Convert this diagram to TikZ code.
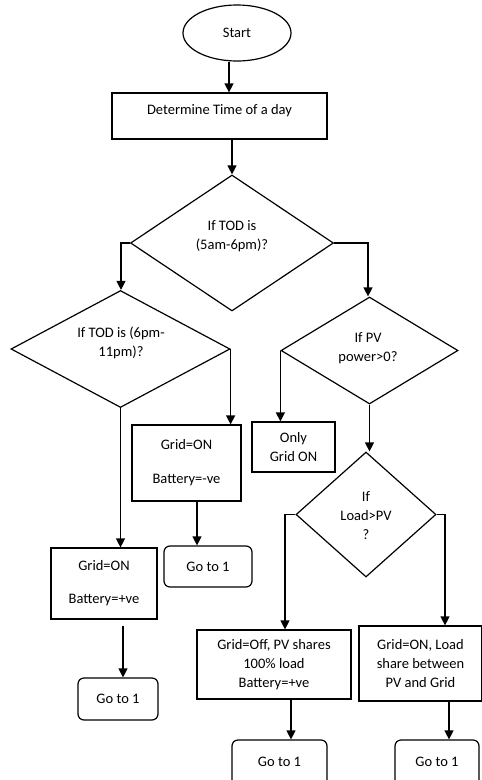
\documentclass[tikz,border=0pt]{standalone}
\usepackage{fontspec}
\setmainfont{Carlito}
\usetikzlibrary{shapes.geometric,arrows.meta,calc}
\tikzset{
  base/.style={draw=black, line width=1.2pt, inner sep=0pt, font=\fontsize{14.5}{19}\selectfont, align=center},
  boxnode/.style={base, rectangle},
  gonode/.style={base, rectangle, rounded corners=6pt},
  decision/.style={base, diamond},
  term/.style={base, ellipse},
  txt/.style={inner sep=0pt, font=\fontsize{14.5}{19}\selectfont, align=center},
  arr/.style={line width=1.2pt, -{Triangle[length=9pt,width=9pt]}}
}
\begin{document}
\begin{tikzpicture}[x=1pt,y=-1pt]
\useasboundingbox (0,0) rectangle (482,780);
\clip (0,0) rectangle (482,780);
% terminal
\node[term, minimum width=108pt, minimum height=56pt] (start) at (237,33) {Start};
% determine box
\node[boxnode, minimum width=215pt, minimum height=46pt] (det) at (219.5,116) {};
\node[txt] (dett) at (219.5,111) {Determine Time of a day};
% diamond 1
\node[decision, minimum width=203pt, minimum height=136pt] (d1) at (232,243) {};
\node[txt] (d1t) at (232,236) {If TOD is\\(5am-6pm)?};
% diamond 2
\node[decision, minimum width=219pt, minimum height=117pt] (d2) at (120.5,349) {};
\node[txt] (d2t) at (121,343) {If TOD is (6pm-\\11pm)?};
% diamond 3
\node[decision, minimum width=177pt, minimum height=107pt] (d3) at (369.5,350.5) {};
\node[txt] (d3t) at (368,348) {If PV\\power>0?};
% diamond 4
\node[decision, minimum width=140pt, minimum height=125pt] (d4) at (366,514.5) {};
\node[txt] (d4t) at (366,516) {If\\Load>PV\\?};
% boxes
\node[boxnode, minimum width=109pt, minimum height=76pt] (b2) at (186.5,463) {Grid=ON\\[15pt]Battery=-ve};
\node[boxnode, minimum width=106pt, minimum height=71pt] (b3) at (104,583.5) {Grid=ON\\[14pt]Battery=+ve};
\node[boxnode, minimum width=83pt, minimum height=50pt] (ob) at (293.5,447) {Only\\Grid ON};
\node[boxnode, minimum width=154pt, minimum height=69pt] (b4) at (274,664.5) {Grid=Off, PV shares\\100\% load\\Battery=+ve};
\node[boxnode, minimum width=123pt, minimum height=75pt] (b5) at (420.5,663.5) {Grid=ON, Load\\share between\\PV and Grid};
% go to boxes
\node[gonode, minimum width=88pt, minimum height=41pt] (g2) at (208,566.5) {Go to 1};
\node[gonode, minimum width=80pt, minimum height=42pt] (g3) at (118,699) {Go to 1};
\node[gonode, minimum width=95pt, minimum height=50pt, text depth=0pt] (g4) at (279.5,765) {\raisebox{6pt}{Go to 1}};
\node[gonode, minimum width=84pt, minimum height=50pt, text depth=0pt] (g5) at (437,765) {\raisebox{6pt}{Go to 1}};
% connectors
\draw[arr] ([xshift=-8pt]start.south) -- ([xshift=-8pt]start.south |- det.north);
\draw[arr] (d1.north |- det.south) -- (d1.north);
\coordinate (k1) at (121,243);
\coordinate (k2) at (368,243);
\draw[arr] (d1.west) -- (k1) -- (k1 |- d2.north);
\draw[arr] (d1.east) -- (k2) -- (k2 |- d3.north);
\draw[arr] (d2.east) -- (d2.east |- b2.north);
\draw[arr] (d2.south) -- (d2.south |- b3.north);
\draw[arr] ([xshift=10.5pt]b2.south) -- ([xshift=10.5pt]b2.south |- g2.north);
\coordinate (k3) at ($(b3.south)+(19,6)$);
\draw[arr] (k3) -- (k3 |- g3.north);
\draw[arr] (d3.west) -- (d3.west |- ob.north);
\draw[arr] (d3.south) -- (d3.south |- d4.north);
\coordinate (k4) at (285,514.5);
\coordinate (k5) at (445,514.5);
\draw[arr] (d4.west) -- (k4) -- (k4 |- b4.north);
\draw[arr] (d4.east) -- (k5) -- (k5 |- b5.north);
\draw[arr] ([xshift=17pt]b4.south) -- ([xshift=17pt]b4.south |- g4.north);
\draw[arr] ([xshift=28.5pt]b5.south) -- ([xshift=28.5pt]b5.south |- g5.north);
\end{tikzpicture}
\end{document}
